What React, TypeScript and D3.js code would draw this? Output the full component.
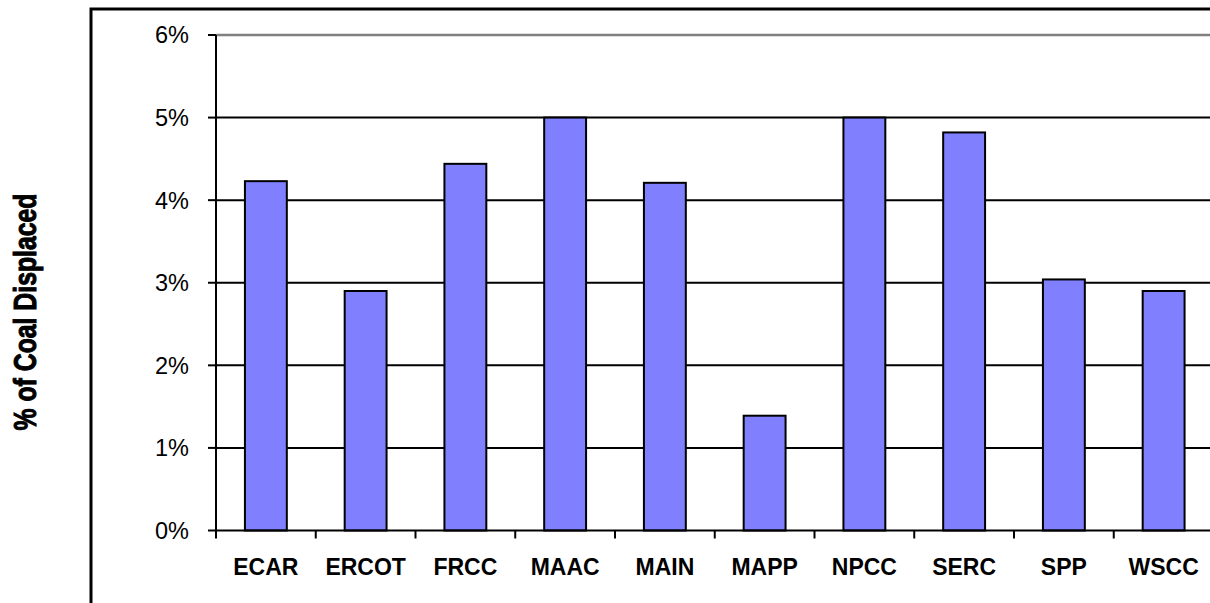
import React, { useEffect, useRef } from "react";
import * as d3 from "d3";

const categories = ["ECAR", "ERCOT", "FRCC", "MAAC", "MAIN", "MAPP", "NPCC", "SERC", "SPP", "WSCC"];
const values = [4.23, 2.9, 4.44, 5.0, 4.21, 1.39, 5.0, 4.82, 3.04, 2.9];
const yTicks = [0, 1, 2, 3, 4, 5, 6];
const yLabel = "% of Coal Displaced";

const W = 1210;
const H = 603;

export default function App() {
  const ref = useRef<SVGSVGElement>(null);

  useEffect(() => {
    const svg = d3.select(ref.current);
    svg.selectAll("*").remove();

    const x0 = 216;
    const x1 = 1213.5;
    const yTop = 35;
    const yBottom = 530.5;

    const x = d3.scaleBand<string>().domain(categories).range([x0, x1]).paddingInner(0).paddingOuter(0);
    const y = d3.scaleLinear().domain([0, 6]).range([yBottom, yTop]);
    const barW = x.bandwidth() * 0.42;

    // outer frame
    svg.append("rect")
      .attr("x", 91).attr("y", 9)
      .attr("width", 1300).attr("height", 800)
      .attr("fill", "white").attr("stroke", "black").attr("stroke-width", 3);

    // gridlines
    svg.append("g").selectAll("line")
      .data(yTicks.filter(t => t > 0))
      .join("line")
      .attr("x1", x0).attr("x2", W + 5)
      .attr("y1", d => y(d)).attr("y2", d => y(d))
      .attr("stroke", d => (d === 6 ? "#808080" : "black"))
      .attr("stroke-width", d => (d === 6 ? 2.5 : 2));

    // bars
    svg.append("g").selectAll("rect")
      .data(categories)
      .join("rect")
      .attr("x", (d) => (x(d) as number) + (x.bandwidth() - barW) / 2)
      .attr("y", (d, i) => y(values[i]))
      .attr("width", barW)
      .attr("height", (d, i) => yBottom - y(values[i]))
      .attr("fill", "#8080FF")
      .attr("stroke", "black")
      .attr("stroke-width", 2);

    // y axis
    const yAxis = svg.append("g");
    yAxis.append("line")
      .attr("x1", x0).attr("x2", x0)
      .attr("y1", yTop).attr("y2", yBottom + 1)
      .attr("stroke", "black").attr("stroke-width", 2);
    yAxis.selectAll("line.tick")
      .data(yTicks)
      .join("line")
      .attr("class", "tick")
      .attr("x1", x0 - 8).attr("x2", x0)
      .attr("y1", d => y(d)).attr("y2", d => y(d))
      .attr("stroke", "black").attr("stroke-width", 2);
    yAxis.selectAll("text")
      .data(yTicks)
      .join("text")
      .attr("x", 189)
      .attr("y", d => y(d))
      .attr("dy", "0.36em")
      .attr("text-anchor", "end")
      .attr("font-family", "Arial, 'Liberation Sans', sans-serif")
      .attr("font-size", 23.5)
      .attr("fill", "black")
      .text(d => `${d}%`);

    // x axis
    const xAxis = svg.append("g");
    xAxis.append("line")
      .attr("x1", x0).attr("x2", W + 5)
      .attr("y1", yBottom).attr("y2", yBottom)
      .attr("stroke", "black").attr("stroke-width", 2);
    xAxis.selectAll("line.tick")
      .data(categories)
      .join("line")
      .attr("class", "tick")
      .attr("x1", d => x(d) as number).attr("x2", d => x(d) as number)
      .attr("y1", yBottom).attr("y2", yBottom + 8)
      .attr("stroke", "black").attr("stroke-width", 2);
    xAxis.selectAll("text")
      .data(categories)
      .join("text")
      .attr("x", d => (x(d) as number) + x.bandwidth() / 2)
      .attr("y", 575)
      .attr("text-anchor", "middle")
      .attr("font-family", "Arial, 'Liberation Sans', sans-serif")
      .attr("font-weight", "bold")
      .attr("font-size", 23)
      .attr("fill", "black")
      .text(d => d);

    // y label
    svg.append("text")
      .attr("transform", `translate(36, 312) rotate(-90) scale(0.8, 1)`)
      .attr("text-anchor", "middle")
      .attr("font-family", "Arial, 'Liberation Sans', sans-serif")
      .attr("font-weight", "bold")
      .attr("font-size", 31)
      .attr("fill", "black")
      .attr("stroke", "black")
      .attr("stroke-width", 1)
      .text(yLabel);
  }, []);

  return (
    <svg
      ref={ref}
      width={W}
      height={H}
      style={{ position: "absolute", left: 0, top: 0, display: "block", background: "white" }}
    />
  );
}
